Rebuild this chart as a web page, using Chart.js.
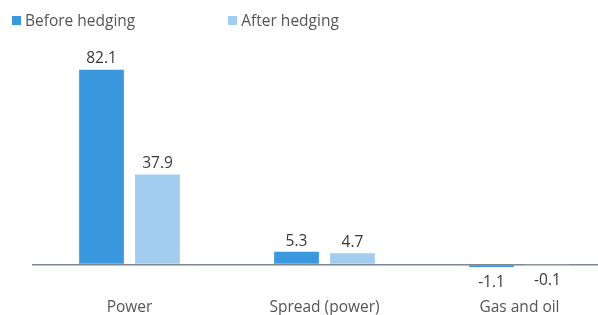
<!DOCTYPE html>
<html>
<head>
  <meta charset="UTF-8">
  <title>Hedging chart</title>
  <script src="https://cdn.jsdelivr.net/npm/chart.js"></script>
  <style>
    * { margin: 0; padding: 0; box-sizing: border-box; }
    body { width: 598px; height: 315px; overflow: hidden; background: #fff; font-family: 'Open Sans', sans-serif; }
    .wrap { position: relative; width: 617px; height: 315px; }
    .legend { position: absolute; left: 12px; top: 9px; display: flex; font-size: 15.5px; color: #555; }
    .legend span { display: flex; align-items: center; }
    .legend i { display: inline-block; width: 9px; height: 9px; margin-right: 4px; }
    .legend span + span { margin-left: 93px; }
  </style>
</head>
<body>
  <div class="wrap">
    <div class="legend" id="legend"></div>
    <canvas id="chart" width="617" height="315"></canvas>
  </div>
  <script>
    const categories = ["Power", "Spread (power)", "Gas and oil"];
    const beforeHedging = [82.1, 5.3, -1.1];
    const afterHedging = [37.9, 4.7, -0.1];
    const seriesNames = ["Before hedging", "After hedging"];
    const seriesColors = ["#3a98de", "#a2cdef"];

    // 凡例 (HTML)
    document.getElementById("legend").innerHTML = seriesNames
      .map((n, i) => `<span><i style="background:${seriesColors[i]}"></i>${n}</span>`)
      .join("");

    // 値ラベル
    const valueLabels = {
      id: "valueLabels",
      afterDatasetsDraw(chart) {
        const ctx = chart.ctx;
        ctx.save();
        ctx.font = "15.5px 'Open Sans', sans-serif";
        ctx.fillStyle = "#3a3a3a";
        ctx.textAlign = "center";
        chart.data.datasets.forEach((ds, di) => {
          chart.getDatasetMeta(di).data.forEach((bar, i) => {
            const v = ds.data[i];
            if (v >= 0) {
              ctx.textBaseline = "bottom";
              ctx.fillText(v.toFixed(1), bar.x, bar.y - 3);
            } else {
              ctx.textBaseline = "top";
              ctx.fillText(v.toFixed(1), bar.x, Math.max(bar.y, bar.base) + 8);
            }
          });
        });
        ctx.restore();
      }
    };

    new Chart(document.getElementById("chart"), {
      type: "bar",
      data: {
        labels: categories,
        datasets: [
          { label: seriesNames[0], data: beforeHedging, backgroundColor: seriesColors[0] },
          { label: seriesNames[1], data: afterHedging, backgroundColor: seriesColors[1] }
        ]
      },
      options: {
        responsive: false,
        animation: false,
        layout: { padding: { left: 32, right: 0, top: 51, bottom: -9 } },
        datasets: { bar: { barPercentage: 0.8, categoryPercentage: 0.574 } },
        plugins: { legend: { display: false }, tooltip: { enabled: false } },
        scales: {
          x: {
            grid: { display: false },
            border: { display: false },
            ticks: { color: "#555", font: { family: "'Open Sans', sans-serif", size: 15.5 }, padding: 7, maxRotation: 0 }
          },
          y: {
            min: -8,
            max: 90,
            ticks: { display: false, stepSize: 10 },
            border: { display: false },
            grid: {
              drawTicks: false,
              lineWidth: 1.5,
              color: (c) => (c.tick && c.tick.value === 0 ? "#7f8792" : "transparent")
            }
          }
        }
      },
      plugins: [valueLabels]
    });
  </script>
</body>
</html>
